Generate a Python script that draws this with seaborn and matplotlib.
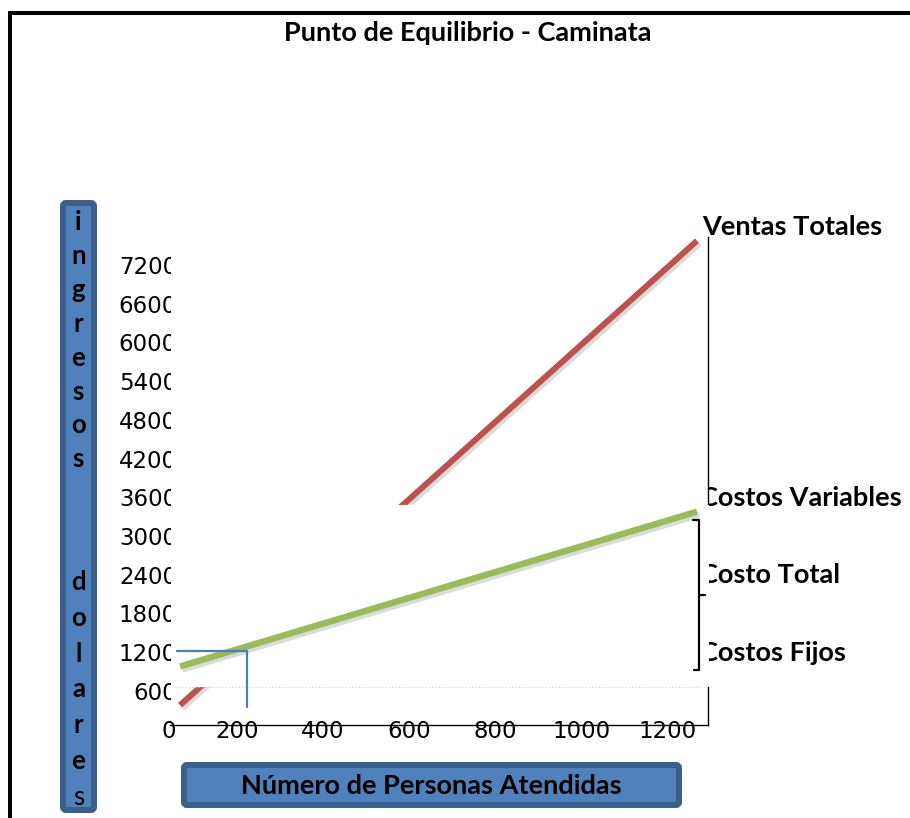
import matplotlib
matplotlib.use("Agg")
import matplotlib.pyplot as plt
import matplotlib.patches as mpatches
import matplotlib.transforms as mtransforms
import matplotlib.patheffects as pe
from matplotlib.transforms import Bbox
import seaborn as sns

# ---------------- data ----------------
personas = [50, 250, 450, 650, 850, 1050, 1250]
ventas_totales = [300, 1500, 2700, 3900, 5100, 6300, 7500]
costo_total = [900, 1300, 1700, 2100, 2500, 2900, 3300]
x_ticks = [0, 200, 400, 600, 800, 1000, 1200]
y_ticks = [600, 1200, 1800, 2400, 3000, 3600, 4200, 4800, 5400, 6000, 6600, 7200]
punto_eq_x = 206
punto_eq_y = 1145
punto_eq_base = 271
punto_eq_inicio = 43

titulo = "Punto de Equilibrio - Caminata"
etiqueta_x = "Número de Personas Atendidas"
etiqueta_y_1 = "ingresos"
etiqueta_y_2 = "dolares"
etiquetas_der = ["Ventas Totales", "Costos Variables", "Costo Total", "Costos Fijos"]

# ---------------- style ----------------
sns.set_theme(style="white")
plt.rcParams["font.family"] = ["Lato", "DejaVu Sans"]

W, H, DPI = 910, 818, 100
fig = plt.figure(figsize=(W / DPI, H / DPI), dpi=DPI)
fig.patch.set_facecolor("white")
PX = mtransforms.Affine2D().scale(1 / DPI) + fig.dpi_scale_trans  # pixel coords (origin bottom-left)


def fy(y):
    return H - y


RED = "#C0504D"
GREEN = "#9BBB59"
BLUE = "#4A7EBB"
BOX_FILL = "#4F81BD"
BOX_EDGE = "#3A5F8B"

# ---------------- axes ----------------
ax_l, ax_r, ax_b, ax_t = 158.5, 708, 724.5, 237
ax = fig.add_axes([ax_l / W, (H - ax_b) / H, (ax_r - ax_l) / W, (ax_b - ax_t) / H])
ax.set_facecolor("none")
ax.set_xlim(0, 1275.5)
ax.set_ylim(0, 7558)

shadow = [pe.SimpleLineShadow(offset=(1.8, -2.2), shadow_color="#8a8a8a", alpha=0.3), pe.Normal()]
sns.lineplot(x=personas, y=ventas_totales, ax=ax, color=RED, linewidth=4.3,
             solid_capstyle="butt", zorder=2, path_effects=shadow)

# white overlay box (as in the original sheet) hiding part of the sales line
ax.add_patch(mpatches.Rectangle((38, 581), 1285 - 38, 3403 - 581, facecolor="white",
                                edgecolor="none", zorder=3, clip_on=False))
ax.plot([38, 1262], [581, 581], color="#cfcfcf", linestyle=(0, (1, 2)), linewidth=0.8, zorder=3.1)

sns.lineplot(x=personas, y=costo_total, ax=ax, color=GREEN, linewidth=4.6,
             solid_capstyle="butt", zorder=4, path_effects=shadow)

# break-even marker
ax.plot([punto_eq_inicio, punto_eq_x], [punto_eq_y, punto_eq_y], color=BLUE, linewidth=1.6, zorder=5)
ax.plot([punto_eq_x, punto_eq_x], [punto_eq_y, punto_eq_base], color=BLUE, linewidth=1.6, zorder=5)

# spines
for s in ["left", "top"]:
    ax.spines[s].set_visible(False)
for s in ["right", "bottom"]:
    ax.spines[s].set_visible(True)
    ax.spines[s].set_color("black")
    ax.spines[s].set_linewidth(1.0)
ax.spines["bottom"].set_bounds(27, 1275.5)

ax.set_xticks(x_ticks)
ax.set_xticklabels([str(v) for v in x_ticks])
ax.set_yticks(y_ticks)
ax.set_yticklabels([str(v) for v in y_ticks])
ax.tick_params(axis="x", length=0, pad=-3.6, labelsize=16.5, labelcolor="black")
ax.tick_params(axis="y", length=0, pad=-13.3, labelsize=16.5, labelcolor="black")
for lbl in ax.get_xticklabels() + ax.get_yticklabels():
    lbl.set_fontfamily(["DejaVu Sans"])
ax.set_xlabel("")
ax.set_ylabel("")

for lbl in ax.get_xticklabels():
    dx = 10 if lbl.get_text() == "0" else -8
    lbl.set_transform(lbl.get_transform() + mtransforms.ScaledTranslation(dx / DPI, 0, fig.dpi_scale_trans))
clip_y = Bbox.from_extents(0, 0, 171, H)
for lbl in ax.get_yticklabels():
    lbl.set_transform(lbl.get_transform() + mtransforms.ScaledTranslation(0, -5 / DPI, fig.dpi_scale_trans))
    lbl.set_clip_on(True)
    lbl.set_clip_box(clip_y)

# ---------------- outer frame ----------------
fig.add_artist(mpatches.Rectangle((9.5, fy(930)), 1000, 917, transform=PX, fill=False,
                                  edgecolor="black", linewidth=2.9, clip_on=False))

# ---------------- title ----------------
fig.text(467.5, fy(33), titulo, transform=PX, ha="center", va="center",
         fontsize=19.5, fontweight="bold", color="black")

# ---------------- y label box ----------------
fig.add_artist(mpatches.FancyBboxPatch((63, fy(810)), 31, 607, transform=PX,
                                       boxstyle="round,pad=0,rounding_size=3",
                                       facecolor=BOX_FILL, edgecolor=BOX_EDGE, linewidth=4.3))
for i, ch in enumerate(etiqueta_y_1):
    fig.text(78.5, fy(230 + i * 33.9), ch, transform=PX, ha="center", va="baseline",
             fontsize=18.5, fontweight="bold", color="black")
for i, ch in enumerate(etiqueta_y_2):
    last = i == len(etiqueta_y_2) - 1
    fig.text(78.5, fy(590 + i * 35.8), ch, transform=PX, ha="center", va="baseline",
             fontsize=18.5, fontweight="normal" if last else "bold", color="black")

# ---------------- x label box ----------------
fig.add_artist(mpatches.FancyBboxPatch((184, fy(805)), 495, 40, transform=PX,
                                       boxstyle="round,pad=0,rounding_size=3",
                                       facecolor=BOX_FILL, edgecolor=BOX_EDGE, linewidth=4.3))
fig.text(431.5, fy(786), etiqueta_x, transform=PX, ha="center", va="center",
         fontsize=19.5, fontweight="bold", color="black")

# ---------------- brace ----------------
brace_kw = dict(transform=PX, color="black", linewidth=1.6, solid_capstyle="round")
fig.add_artist(plt.Line2D([693, 699, 699, 694], [fy(520), fy(520), fy(670), fy(670)], **brace_kw))
fig.add_artist(plt.Line2D([699, 705], [fy(595), fy(595)], **brace_kw))

# ---------------- right labels ----------------
clip_r = Bbox.from_extents(709, 0, W, H)
pos_x = [702, 700, 700, 700]
pos_y = [227, 498, 575, 653]
for k, (txt, xx, yy) in enumerate(zip(etiquetas_der, pos_x, pos_y)):
    t = fig.text(xx, fy(yy), txt, transform=PX, ha="left", va="center",
                 fontsize=19.5, fontweight="bold", color="black")
    if k > 0:
        t.set_clip_on(True)
        t.set_clip_box(clip_r)

fig.savefig("out.png", dpi=DPI, facecolor="white")
